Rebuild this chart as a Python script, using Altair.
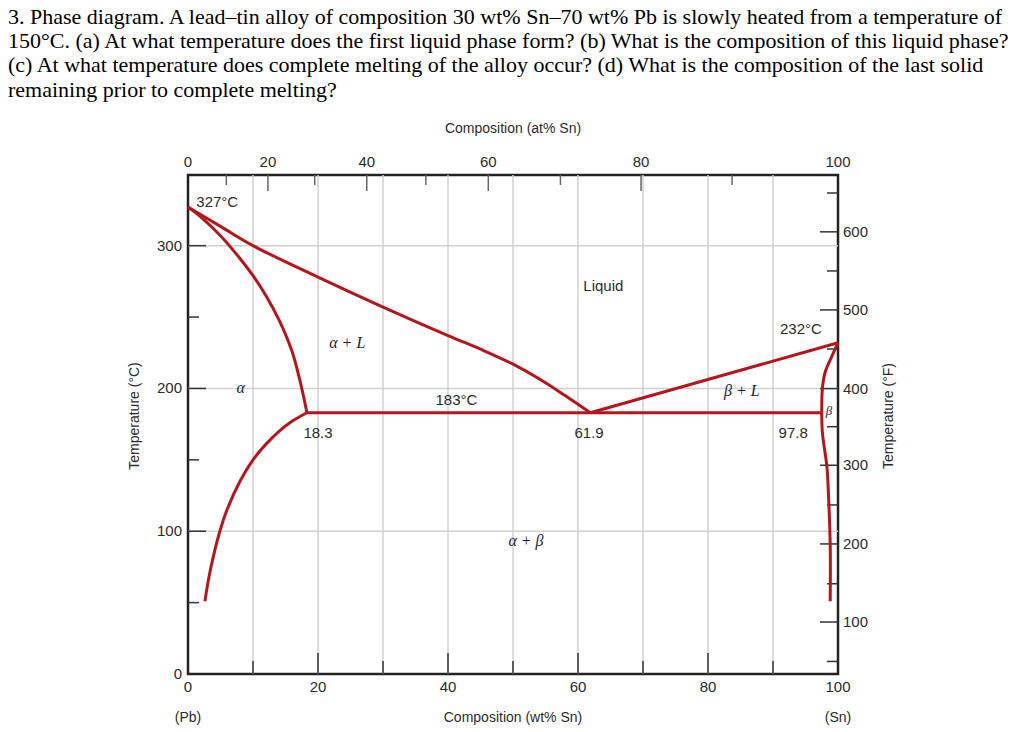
import altair as alt
import pandas as pd

# ---------------- data ----------------
# phase boundaries (wt% Sn, temperature degC)
liqL_wt = [0, 5, 10, 20, 30, 40, 45, 50, 55, 58, 61.9]
liqL_t = [327, 313.5, 300, 278, 257, 237, 227.5, 217, 204, 195, 183]
solA_wt = [0, 2, 5, 8, 10, 12, 14, 16, 17.2, 18.3]
solA_t = [327, 320, 307, 291, 279, 265, 248, 226, 206, 183]
solvA_wt = [18.3, 16, 14, 12, 10, 8, 6, 4.9, 3.4, 2.6]
solvA_t = [183, 177, 170, 161, 150, 135, 115, 100, 72, 51]
eut_wt = [18.3, 97.5]
eut_t = [183, 183]
liqR_wt = [61.9, 100]
liqR_t = [183, 232]
solB_wt = [100, 99.0, 98.0, 97.6, 97.5]
solB_t = [232, 222, 211, 200, 183]
solvB_wt = [97.5, 97.6, 98.3, 98.5, 98.8, 98.8]
solvB_t = [183, 169, 145, 129, 91, 51]

# axes
wt_grid = [10, 20, 30, 40, 50, 60, 70, 80, 90]
wt_major = [20, 40, 60, 80]
wt_minor = [10, 30, 50, 70, 90]
wt_labels = [0, 20, 40, 60, 80, 100]
t_grid = [100, 200, 300]
t_major = [100, 200, 300]
t_minor = [50, 150, 250]
t_labels = [0, 100, 200, 300]
# top axis: at% Sn tick positions expressed in wt% Sn
at_major_wt = [12.3, 27.5, 46.2, 69.7]
at_minor_wt = [5.9, 19.5, 36.6, 57.3, 83.7]
at_label_wt = [0, 12.3, 27.5, 46.2, 69.7, 100]
at_label_txt = ["0", "20", "40", "60", "80", "100"]
# right axis: degF tick positions expressed in degC (as drawn)
f_major_c = [36.4, 91.1, 146.2, 199.9, 255.0, 309.7]
f_major_txt = ["100", "200", "300", "400", "500", "600"]
f_minor_c = [8.8, 63.2, 118.4, 173.2, 227.6, 282.3, 336.9]

# annotations
sans_txt = ["327°C", "Liquid", "232°C", "183°C", "18.3", "61.9", "97.8"]
sans_wt = [4.5, 63.9, 94.3, 41.3, 20.0, 61.7, 93.1]
sans_t = [330.8, 271.8, 241.5, 192.0, 168.7, 168.7, 168.7]
ital_txt = ["α + L", "α", "β + L", "α + β"]
ital_wt = [24.5, 8.1, 85.2, 52.0]
ital_t = [228.6, 196.7, 194.7, 89.8]
beta_txt = ["β"]
beta_wt = [98.6]
beta_t = [181.5]

question = [
    "3. Phase diagram. A lead–tin alloy of composition 30 wt% Sn–70 wt% Pb is slowly heated from a temperature of",
    "150°C. (a) At what temperature does the first liquid phase form? (b) What is the composition of this liquid phase?",
    "(c) At what temperature does complete melting of the alloy occur? (d) What is the composition of the last solid",
    "remaining prior to complete melting?",
]

# ---------------- build ----------------
W, H = 650, 499
YMAX = 349.5
RED = "#B5161E"
TXT = "#2b2b2b"
SANS = "Liberation Sans"
SERIF = "Liberation Serif"
FS = 15

xs = alt.Scale(domain=[0, 100], nice=False, zero=False)
ys = alt.Scale(domain=[0, YMAX], nice=False, zero=False)
X = lambda f: alt.X(f, type="quantitative", scale=xs, axis=None)
Y = lambda f: alt.Y(f, type="quantitative", scale=ys, axis=None)

rows = []
for name, ws, ts in [("liqL", liqL_wt, liqL_t), ("solA", solA_wt, solA_t),
                     ("solvA", solvA_wt, solvA_t), ("eut", eut_wt, eut_t),
                     ("liqR", liqR_wt, liqR_t), ("solB", solB_wt, solB_t),
                     ("solvB", solvB_wt, solvB_t)]:
    for i, (w, t) in enumerate(zip(ws, ts)):
        rows.append({"curve": name, "i": i, "wt": w, "t": t})
curves_df = pd.DataFrame(rows)

vgrid = alt.Chart(pd.DataFrame({"wt": wt_grid})).mark_rule(color="#d0d0d0", strokeWidth=1.5).encode(x=X("wt"))
hgrid = alt.Chart(pd.DataFrame({"t": t_grid})).mark_rule(color="#d0d0d0", strokeWidth=1.5).encode(y=Y("t"))

def xticks(vals, length, color="#333"):
    return alt.Chart(pd.DataFrame({"wt": vals})).mark_rule(color=color, strokeWidth=1.5).encode(
        x=X("wt"), y=alt.value(H), y2=alt.value(H - length))

def topticks(vals, length, color="#666"):
    return alt.Chart(pd.DataFrame({"wt": vals})).mark_rule(color=color, strokeWidth=1.5).encode(
        x=X("wt"), y=alt.value(0), y2=alt.value(length))

def lticks(vals, length):
    return alt.Chart(pd.DataFrame({"t": vals})).mark_rule(color="#333", strokeWidth=1.5).encode(
        y=Y("t"), x=alt.value(0), x2=alt.value(length))

def rticks(vals, length):
    return alt.Chart(pd.DataFrame({"t": vals})).mark_rule(color="#333", strokeWidth=1.5).encode(
        y=Y("t"), x=alt.value(W - length), x2=alt.value(W))

lines = alt.Chart(curves_df).mark_line(color=RED, strokeWidth=3, strokeJoin="round", strokeCap="butt",
                                       interpolate="catmull-rom").encode(
    x=X("wt"), y=Y("t"), detail="curve:N", order="i:Q")

sans_ann = alt.Chart(pd.DataFrame({"s": sans_txt, "wt": sans_wt, "t": sans_t})).mark_text(
    font=SANS, fontSize=FS, color=TXT, align="center", baseline="middle").encode(x=X("wt"), y=Y("t"), text="s:N")
ital_ann = alt.Chart(pd.DataFrame({"s": ital_txt, "wt": ital_wt, "t": ital_t})).mark_text(
    font=SERIF, fontSize=16, fontStyle="italic", color="#1c1c3a", align="center", baseline="alphabetic").encode(
    x=X("wt"), y=Y("t"), text="s:N")
beta_ann = alt.Chart(pd.DataFrame({"s": beta_txt, "wt": beta_wt, "t": beta_t})).mark_text(
    font=SERIF, fontSize=13, fontStyle="italic", color="#1c1c3a", align="center", baseline="alphabetic").encode(
    x=X("wt"), y=Y("t"), text="s:N")

bot_lab = alt.Chart(pd.DataFrame({"wt": wt_labels, "s": [str(v) for v in wt_labels]})).mark_text(
    font=SANS, fontSize=FS, color=TXT, align="center", baseline="middle").encode(
    x=X("wt"), y=alt.value(H + 13), text="s:N")
left_lab = alt.Chart(pd.DataFrame({"t": t_labels, "s": [str(v) for v in t_labels]})).mark_text(
    font=SANS, fontSize=FS, color=TXT, align="right", baseline="middle").encode(
    y=Y("t"), x=alt.value(-6), text="s:N")
top_lab = alt.Chart(pd.DataFrame({"wt": at_label_wt, "s": at_label_txt})).mark_text(
    font=SANS, fontSize=FS, color=TXT, align="center", baseline="middle").encode(
    x=X("wt"), y=alt.value(-13), text="s:N")
right_lab = alt.Chart(pd.DataFrame({"t": f_major_c, "s": f_major_txt})).mark_text(
    font=SANS, fontSize=FS, color=TXT, align="left", baseline="middle").encode(
    y=Y("t"), x=alt.value(W + 5), text="s:N")

def label(txt, x, y, angle=0, align="center", size=14):
    return alt.Chart(pd.DataFrame({"s": [txt]})).mark_text(
        font=SANS, fontSize=size, color=TXT, align=align, baseline="middle", angle=angle).encode(
        x=alt.value(x), y=alt.value(y), text="s:N")

titles = [
    label("Composition (wt% Sn)", 325, 543),
    label("Composition (at% Sn)", 325, -46),
    label("(Pb)", 0, 543),
    label("(Sn)", W, 543),
    label("Temperature (°C)", -53, 241, angle=270),
    label("Temperature (°F)", 701, 241, angle=270),
]

qtext = alt.Chart(pd.DataFrame({"k": [0]})).mark_text(
    font=SERIF, fontSize=22, color="#000", align="left", baseline="alphabetic", lineHeight=24.4,
    text=question).encode(x=alt.value(-180), y=alt.value(-151.5))

chart = alt.layer(
    vgrid, hgrid,
    xticks(wt_major, 21), xticks(wt_minor, 13),
    topticks(at_major_wt, 16), topticks(at_minor_wt, 10),
    lticks(t_major, 18), lticks(t_minor, 11),
    rticks(f_major_c, 18), rticks(f_minor_c, 11),
    lines, sans_ann, ital_ann, beta_ann,
    bot_lab, left_lab, top_lab, right_lab,
    *titles, qtext,
).properties(
    width=W, height=H,
    padding={"left": 188, "top": 175, "right": 186, "bottom": 58},
    autosize=alt.AutoSizeParams(type="none"),
    background="white",
).configure_view(stroke="#222", strokeWidth=2.5)

chart.save("out.html", embed_options={"renderer": "svg", "actions": False})
